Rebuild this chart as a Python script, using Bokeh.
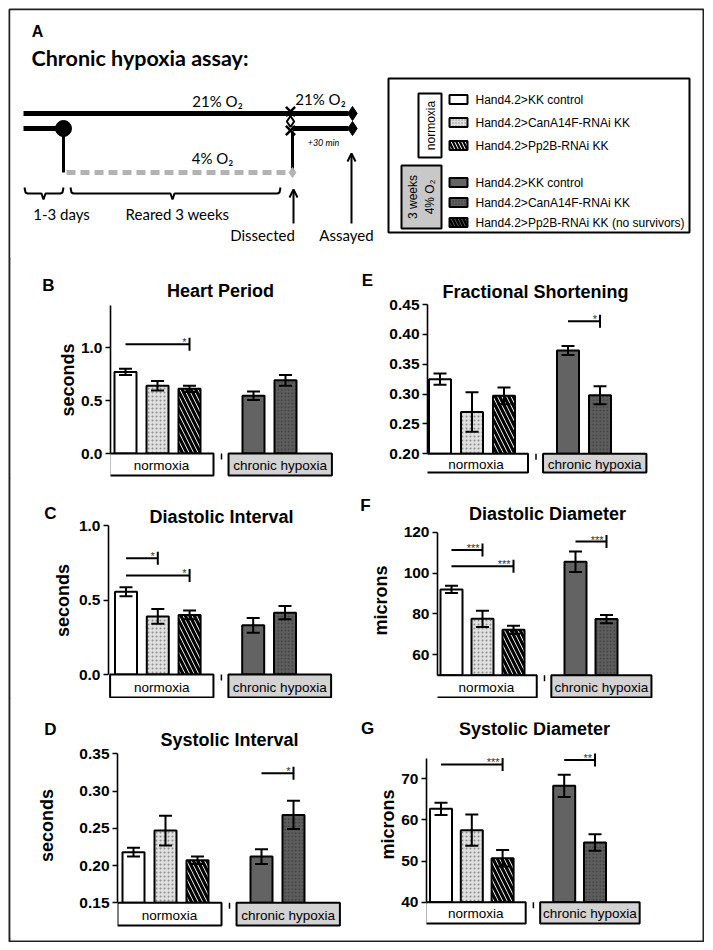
import math
from bokeh.plotting import figure
from bokeh.models import (Range1d, ColumnDataSource, Whisker, TeeHead, Label,
                          FixedTicker, PrintfTickFormatter, Arrow, OpenHead)
from bokeh.embed import file_html
from bokeh.resources import INLINE
from bokeh.core.properties import value

# ---------------- data ----------------
conditions = ["normoxia", "chronic hypoxia"]
genotypes = ["Hand4.2>KK control", "Hand4.2>CanA14F-RNAi KK", "Hand4.2>Pp2B-RNAi KK"]
bar_condition = [0, 0, 0, 1, 1]
bar_genotype = [0, 1, 2, 0, 1]

heart_period_mean = [0.77, 0.64, 0.61, 0.545, 0.69]
heart_period_sem = [0.03, 0.045, 0.03, 0.04, 0.05]
heart_period_sig = [(0, 2, 1.03, "*")]

diastolic_interval_mean = [0.555, 0.39, 0.40, 0.33, 0.415]
diastolic_interval_sem = [0.03, 0.05, 0.03, 0.05, 0.045]
diastolic_interval_sig = [(0, 1, 0.78, "*"), (0, 2, 0.665, "*")]

systolic_interval_mean = [0.218, 0.247, 0.207, 0.212, 0.268]
systolic_interval_sem = [0.006, 0.02, 0.005, 0.01, 0.019]
systolic_interval_sig = [(3, 4, 0.324, "*")]

fractional_shortening_mean = [0.325, 0.270, 0.297, 0.373, 0.298]
fractional_shortening_sem = [0.0095, 0.033, 0.014, 0.0075, 0.015]
fractional_shortening_sig = [(3, 4, 0.422, "*")]

diastolic_diameter_mean = [92.0, 77.6, 72.2, 105.5, 77.5]
diastolic_diameter_sem = [1.8, 4.0, 2.0, 5.0, 2.0]
diastolic_diameter_sig = [(0, 1, 111.3, "***"), (0, 2, 103.3, "***"), (3, 4, 115.4, "***")]

systolic_diameter_mean = [62.7, 57.5, 50.7, 68.3, 54.5]
systolic_diameter_sem = [1.5, 3.8, 2.0, 2.7, 2.0]
systolic_diameter_sig = [(0, 2, 73.5, "***"), (3, 4, 74.6, "**")]

legend_labels = genotypes + genotypes[:2] + [genotypes[2] + " (no survivors)"]
legend_condition = [0, 0, 0, 1, 1, 1]
legend_genotype = [0, 1, 2, 0, 1, 2]

# ---------------- styles ----------------
FILL = {(0, 0): "white", (0, 1): "#e0e0e0", (0, 2): "white",
        (1, 0): "#636363", (1, 1): "#5e5e5e", (1, 2): "#5a5a5a"}
HATCH = {(0, 0): " ", (0, 1): ".", (0, 2): "\\", (1, 0): " ", (1, 1): ".", (1, 2): "\\"}
HATCH_COLOR = {(0, 0): "black", (0, 1): "#8c8c8c", (0, 2): "black",
               (1, 0): "black", (1, 1): "#3c3c3c", (1, 2): "black"}
HATCH_SCALE = {(0, 0): 4, (0, 1): 4, (0, 2): 9, (1, 0): 4, (1, 1): 3.5, (1, 2): 9}
HATCH_WEIGHT = {(0, 0): 1, (0, 1): 1.2, (0, 2): 3.2, (1, 0): 1, (1, 1): 1.0, (1, 2): 3.2}
LEG_SCALE = {(0, 0): 4, (0, 1): 3, (0, 2): 7, (1, 0): 4, (1, 1): 3, (1, 2): 7}
LEG_WEIGHT = {(0, 0): 1, (0, 1): 1.0, (0, 2): 2.2, (1, 0): 1, (1, 1): 1.0, (1, 2): 2.2}
BOX_FILL = ["white", "#d3d3d3"]
AX_FONT = "Liberation Sans"
A_FONT = "Lato"
TOP_BORDER = 24


def place(p, left, top):
    p.styles = {"position": "absolute", "left": f"{left}px", "top": f"{top}px"}


def style_cols(conds, genos):
    keys = list(zip(conds, genos))
    return dict(fill=[FILL[k] for k in keys], hatch=[HATCH[k] for k in keys],
                hcol=[HATCH_COLOR[k] for k in keys], hscale=[HATCH_SCALE[k] for k in keys],
                hweight=[HATCH_WEIGHT[k] for k in keys],
                lscale=[LEG_SCALE[k] for k in keys], lweight=[LEG_WEIGHT[k] for k in keys])


def bar_panel(geom, means, sems, sig, title, letter, ylabel):
    (page_left, page_top, fig_w, fig_h, axis_px, slot0_px, pitch_px, ycal, bounds, ticks, fmt,
     frame_right, frame_bot, box_bot, title_px, letter_px, lab_standoff) = geom
    frame_top = page_top + TOP_BORDER
    va, pa, vb, pb = ycal
    ppu = (pa - pb) / (vb - va)

    def yv(px):
        return va + (pa - px) / ppu

    def ypx(v):
        return pa - (v - va) * ppu

    def xv(px):
        return (px - slot0_px) / pitch_px

    p = figure(width=fig_w, height=fig_h, title=None,
               x_range=Range1d(xv(axis_px), xv(frame_right)),
               y_range=Range1d(yv(frame_bot), yv(frame_top)),
               x_axis_type=None, toolbar_location=None, output_backend="svg",
               min_border_left=int(round(axis_px - page_left)),
               min_border_right=int(round(page_left + fig_w - frame_right)),
               min_border_top=TOP_BORDER,
               min_border_bottom=int(round(page_top + fig_h - frame_bot)))
    place(p, page_left, page_top)
    p.outline_line_color = None
    p.ygrid.visible = False
    ax = p.yaxis[0]
    ax.ticker = FixedTicker(ticks=ticks)
    ax.bounds = bounds
    ax.formatter = PrintfTickFormatter(format=fmt)
    ax.major_label_text_font = AX_FONT
    ax.major_label_text_font_style = "bold"
    ax.major_label_text_font_size = "15.5px"
    ax.major_label_text_color = "black"
    ax.major_label_standoff = 3
    ax.axis_line_width = 1.6
    ax.major_tick_line_width = 1.6
    ax.major_tick_out = 5
    ax.major_tick_in = 0
    ax.minor_tick_line_color = None
    if ylabel:
        ax.axis_label = ylabel
        ax.axis_label_text_font = AX_FONT
        ax.axis_label_text_font_style = "bold"
        ax.axis_label_text_font_size = "18px"
        ax.axis_label_text_color = "black"
        ax.axis_label_standoff = lab_standoff

    ng = len(genotypes) + 1
    slots = [c * ng + g for c, g in zip(bar_condition, bar_genotype)]
    st = style_cols(bar_condition, bar_genotype)
    src = ColumnDataSource(dict(x=slots, top=means, fill=st["fill"], hatch=st["hatch"],
                                hcol=st["hcol"], hscale=st["hscale"], hweight=st["hweight"],
                                upper=[m + s for m, s in zip(means, sems)],
                                lower=[m - s for m, s in zip(means, sems)]))
    p.vbar(x="x", top="top", bottom=bounds[0], width=22.0 / pitch_px, source=src,
           fill_color="fill", hatch_pattern="hatch", hatch_color="hcol",
           hatch_scale="hscale", hatch_weight="hweight",
           line_color="black", line_width=2)
    w = Whisker(base="x", upper="upper", lower="lower", source=src, line_width=2,
                line_color="black",
                upper_head=TeeHead(size=13, line_width=2, line_color="black"),
                lower_head=TeeHead(size=13, line_width=2, line_color="black"), level="overlay")
    p.add_layout(w)

    # category boxes under the axis
    box_left = [-0.5, ng - 0.78]
    box_right = [2.75, 2 * ng - 1.55]
    p.quad(left=box_left, right=box_right, top=bounds[0], bottom=yv(box_bot),
           fill_color=BOX_FILL, line_color="black", line_width=2)
    p.text(x=[(l + r) / 2 for l, r in zip(box_left, box_right)],
           y=yv((ypx(bounds[0]) + box_bot) / 2 + 1), text=conditions,
           text_font=value(AX_FONT), text_font_size="13.5px",
           text_align="center", text_baseline="middle")
    p.scatter(x=[ng - 1], y=[yv(ypx(bounds[0]) + 3)], marker="dash", angle=math.pi / 2,
              size=6, line_width=1.5, line_color="black")

    # significance brackets
    for i, j, h, lab in sig:
        p.segment(x0=[slots[i]], x1=[slots[j]], y0=[h], y1=[h], line_width=2, line_color="black")
        p.scatter(x=[slots[j]], y=[h], marker="dash", angle=math.pi / 2, size=13,
                  line_width=2, line_color="black")
        p.text(x=[slots[j]], y=[h], text=[lab], x_offset=-3, y_offset=4,
               text_font=value(AX_FONT), text_font_size="11px", text_color="#333333",
               text_align="right", text_baseline="bottom")

    p.add_layout(Label(x=xv(title_px[0]), y=yv(title_px[1]), text=title, text_color="black",
                       text_font=AX_FONT, text_font_style="bold", text_font_size="18px",
                       text_align="center", text_baseline="middle"))
    p.add_layout(Label(x=letter_px[0] - page_left, y=letter_px[1] - page_top,
                       x_units="canvas", y_units="canvas", text=letter, text_color="black",
                       text_font=AX_FONT, text_font_style="bold", text_font_size="17px",
                       text_align="center", text_baseline="middle"), "above")
    return p


# geometry: page_left, page_top, w, h, axis_px, slot0_px, pitch_px, (va,pa,vb,pb), bounds, ticks, fmt,
#           frame_right, frame_bot, box_bot, title_px, letter_px, label_standoff
gB = (10, 258, 350, 220, 110, 125, 32, (0, 453, 1.0, 347), (0, 1.4), [0, 0.5, 1.0], "%.1f",
      345, 477, 475, (220, 290), (48, 285), 0)
gC = (10, 478, 350, 220, 108, 125.5, 31.8, (0, 674, 1.0, 525), (0, 1.0), [0, 0.5, 1.0], "%.1f",
      345, 698, 697, (221, 516), (50, 513), 3)
gD = (10, 698, 350, 240, 117, 133, 32, (0.15, 902.3, 0.35, 753.3), (0.15, 0.35),
      [0.15, 0.20, 0.25, 0.30, 0.35], "%.2f", 345, 928, 925, (229, 739), (50, 729), 19)
gE = (360, 258, 342, 220, 427, 439.5, 32, (0.2, 453.3, 0.45, 304), (0.2, 0.45),
      [0.20, 0.25, 0.30, 0.35, 0.40, 0.45], "%.2f", 690, 476, 472, (535, 291), (367, 280), 0)
gF = (360, 478, 342, 220, 437, 451, 31, (60, 654.3, 120, 531.7), (50, 120),
      [60, 80, 100, 120], "%d", 690, 698, 697, (547, 513), (365, 505), 10)
gG = (360, 698, 342, 240, 426, 440.5, 30.8, (40, 901.7, 70, 778.3), (40, 75),
      [40, 50, 60, 70], "%d", 690, 926, 923, (534, 728), (367, 728), 0)

pB = bar_panel(gB, heart_period_mean, heart_period_sem, heart_period_sig, "Heart Period", "B", "seconds")
pC = bar_panel(gC, diastolic_interval_mean, diastolic_interval_sem, diastolic_interval_sig,
               "Diastolic Interval", "C", "seconds")
pD = bar_panel(gD, systolic_interval_mean, systolic_interval_sem, systolic_interval_sig,
               "Systolic Interval", "D", "seconds")
pE = bar_panel(gE, fractional_shortening_mean, fractional_shortening_sem, fractional_shortening_sig,
               "Fractional Shortening", "E", None)
pF = bar_panel(gF, diastolic_diameter_mean, diastolic_diameter_sem, diastolic_diameter_sig,
               "Diastolic Diameter", "F", "microns")
pG = bar_panel(gG, systolic_diameter_mean, systolic_diameter_sem, systolic_diameter_sig,
               "Systolic Diameter", "G", "microns")

# ---------------- outer frame ----------------
pFrame = figure(width=696, height=934, x_range=Range1d(0, 1), y_range=Range1d(0, 1),
                x_axis_type=None, y_axis_type=None, toolbar_location=None, output_backend="svg",
                min_border=1, title=None)
pFrame.outline_line_color = "#222222"
pFrame.outline_line_width = 2
place(pFrame, 8, 8)

# ---------------- panel A (schematic, page-pixel coordinates) ----------------
pA = figure(width=692, height=248, x_range=Range1d(10, 702), y_range=Range1d(258, 10),
            x_axis_type=None, y_axis_type=None, toolbar_location=None, output_backend="svg",
            min_border=0, title=None)
pA.outline_line_color = None
place(pA, 10, 10)


def atext(x, y, t, size="15px", style="normal", font=A_FONT, align="center", angle=0.0):
    pA.text(x=[x], y=[y], text=[t], text_font=value(font), text_font_size=size,
            text_font_style=style, text_align=align, text_baseline="middle", angle=angle)


atext(37, 31, "A", size="16px", style="bold", font=AX_FONT)
atext(31, 57, "Chronic hypoxia assay:", size="21.5px", style="bold", align="left")

# timeline
pA.segment(x0=[23, 23, 292], y0=[113, 128, 128], x1=[348, 63, 348], y1=[113, 128, 128],
           line_width=5, line_color="black")
pA.line(x=[66, 289], y=[172, 172], line_width=5, line_color="#b3b3b3", line_dash="9 5")
pA.segment(x0=[63, 292], y0=[128, 172], x1=[63, 292], y1=[172, 131], line_width=3, line_color="black")
pA.scatter(x=[63], y=[128], marker="circle", size=16, fill_color="black", line_color="black")
pA.scatter(x=[352, 352], y=[113, 128], marker="diamond", size=14, fill_color="black", line_color="black")
pA.scatter(x=[292], y=[172], marker="diamond", size=10, fill_color="#b3b3b3", line_color="#b3b3b3")
pA.scatter(x=[290, 290], y=[111, 130], marker="x", size=13, line_width=2.5, line_color="black")
pA.scatter(x=[290], y=[121], marker="diamond", size=11, fill_color="white", line_color="black",
           line_width=2)
atext(217, 100, "21% O\u2082")
atext(320, 98, "21% O\u2082")
atext(212, 157, "4% O\u2082")
atext(323, 142, "+30 min", size="9px", style="italic")


def bracket(x0, x1, xc, y):
    xs = [x0, x0 + 1, x0 + 3, xc - 2, xc, xc + 2, x1 - 3, x1 - 1, x1]
    ys = [y - 6, y - 1, y, y, y + 6, y, y, y - 1, y - 6]
    pA.line(x=xs, y=ys, line_width=2, line_color="black")


bracket(24, 63, 43, 193)
bracket(70, 280, 172, 193)
atext(61, 213, "1-3 days")
atext(177, 213, "Reared 3 weeks")
atext(262, 234, "Dissected")
atext(346, 234, "Assayed")
pA.add_layout(Arrow(x_start=293, y_start=223, x_end=293, y_end=189, line_width=2,
                    end=OpenHead(size=8, line_width=2)))
pA.add_layout(Arrow(x_start=351, y_start=223, x_end=351, y_end=153, line_width=2,
                    end=OpenHead(size=8, line_width=2)))

# legend
pA.quad(left=[388], right=[689], top=[78], bottom=[232], fill_color=None, line_color="black",
        line_width=2)
pA.quad(left=[418], right=[441], top=[93], bottom=[157], fill_color="white", line_color="black",
        line_width=2)
pA.quad(left=[401], right=[441], top=[165], bottom=[228], fill_color="#c8c8c8", line_color="black",
        line_width=2)
atext(430, 125, "normoxia", size="12px", font=AX_FONT, angle=math.pi / 2)
atext(421, 196.5, "3 weeks\n4% O\u2082", size="12px", font=AX_FONT, angle=math.pi / 2)
sw_y = [99, 122, 145, 182, 202, 222]
lst = style_cols(legend_condition, legend_genotype)
pA.quad(left=449, right=467, top=[y - 4.5 for y in sw_y], bottom=[y + 4.5 for y in sw_y],
        fill_color=lst["fill"], hatch_pattern=lst["hatch"], hatch_color=lst["hcol"],
        hatch_scale=lst["lscale"], hatch_weight=lst["lweight"],
        line_color="black", line_width=2)
pA.text(x=475, y=sw_y, text=legend_labels, text_font=value(AX_FONT), text_font_size="12px",
        text_align="left", text_baseline="middle")

roots = [pFrame, pA, pB, pC, pD, pE, pF, pG]
open("out.html", "w").write(file_html(roots, INLINE))
